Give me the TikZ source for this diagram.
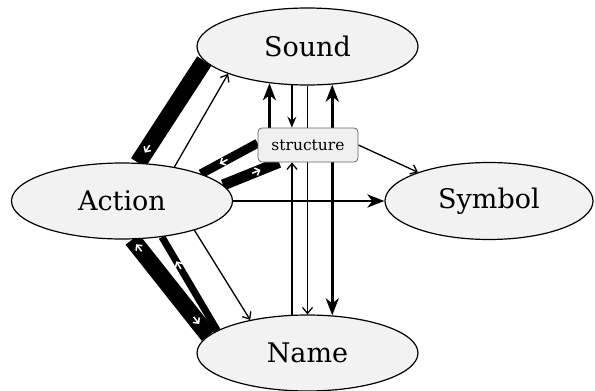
\documentclass[tikz,border=0pt]{standalone}
\usepackage{fontspec}
\setmainfont{DejaVu Serif}
\usetikzlibrary{arrows.meta,shapes.geometric,backgrounds,decorations.markings}

\tikzset{
  state/.style={ellipse, draw, line width=1.2pt, fill=gray!10, minimum width=221pt,
    minimum height=77pt, inner sep=0pt, font=\fontsize{27}{32}\selectfont},
  hub/.style={rectangle, rounded corners=4pt, draw=black!60, line width=0.8pt, fill=gray!12,
    minimum width=100pt, minimum height=34pt, inner sep=0pt, font=\fontsize{15.5}{18}\selectfont},
  band/.style={line width=#1},
  thinlink/.style={line width=1.3pt, -{Straight Barb[length=6pt, width=10pt]}},
  midlink/.style={line width=2pt, -{Stealth[length=11pt, width=9pt, inset=4pt]}},
  thicklink/.style={line width=2.8pt, -{Stealth[length=17pt, width=13pt, inset=5pt]}},
  tipfwd/.style={postaction={decorate, decoration={markings, mark=at position #1 with
    {\draw[white, line width=1.5pt, -{Straight Barb[length=4pt, width=8pt]}] (-9pt,0) -- (0pt,0pt);}}}},
  tipback/.style={postaction={decorate, decoration={markings, mark=at position #1 with
    {\draw[white, line width=1.5pt, -{Straight Barb[length=4pt, width=8pt]}] (9pt,0) -- (0pt,0pt);}}}}
}

\begin{document}
\begin{tikzpicture}[x=1pt, y=-1pt]
\useasboundingbox (0,0) rectangle (595,391);

% the four ellipses and the box
\node[state] (sound) at (307.5,46.5) {Sound};
\node[state, minimum height=76pt] (action) at (122,201) {Action};
\node[state, minimum width=208pt] (symbol) at (489,201) {Symbol};
\node[state, minimum height=76pt] (name) at (307.5,353) {Name};
\node[hub] (structure) at (308,145) {structure};

\begin{scope}[on background layer]
% heavy bands
\draw[band=17pt, tipfwd=0.9] (sound.188) -- (action.67);
\draw[band=9pt, tipfwd=0.67] (structure.178) -- (action.19);
\draw[band=11pt, tipfwd=0.67] (action.9) -- (structure.211);
\draw[band=17pt, tipback=0.05, tipfwd=0.88] (action.285) -- (name.170.6);
\draw[band=7pt, tipback=0.26] (action.318.5) -- (name.166.5);

% arrows
\draw[thinlink] (action.33.5) -- (sound.199.5);
\draw[thinlink] (action.338.7) -- (name.150.6);
\draw[thicklink] (action.east) -- (symbol.west);
\draw[thinlink] (structure.east) -- (symbol.158.6);

% verticals
\draw[thicklink] (structure.north -| sound.224) -- (sound.224);
\draw[midlink] (sound.248) -- (structure.north -| sound.248);
\draw[thinlink] (sound.south) -- (name.north);
\draw[thicklink, {Stealth[length=17pt, width=13pt, inset=5pt]}-{Stealth[length=17pt, width=13pt, inset=5pt]}]
  (sound.303) -- (name.57 -| sound.303);
\draw[thinlink] (name.112) -- (structure.south -| name.112);
\end{scope}

\end{tikzpicture}
\end{document}
